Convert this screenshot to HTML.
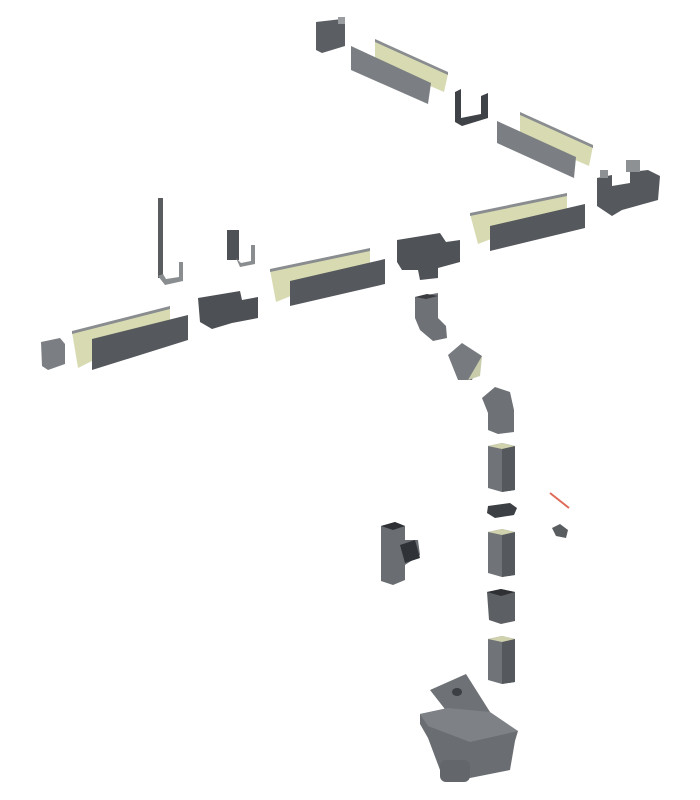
<!DOCTYPE html>
<html><head><style>html,body{margin:0;padding:0;background:#fff}svg{display:block}</style></head>
<body>
<svg width="700" height="800" viewBox="0 0 700 800" xmlns="http://www.w3.org/2000/svg">
<g stroke="none">
<!-- top end cap -->
<path d="M316,22 L342,19 L345,24 L345,46 L322,53 L316,50 Z" fill="#5b5e62"/>
<path d="M338,17 L345,17 L345,24 L338,24 Z" fill="#9a9da0"/>
<!-- gutter A -->
<polygon points="375,40 448,74 444,92 375,62" fill="#d8dbb2"/>
<polygon points="351,46 431,83 428,104 351,70" fill="#7b7f83"/>
<polygon points="375,39 448,72 448,75 375,42" fill="#8a8d90"/>
<!-- U clip -->
<path d="M455,92 L461,89 L461,118 L481,114 L481,96 L488,93 L488,118 L462,126 L455,122 Z" fill="#3f4246"/>
<!-- gutter B -->
<polygon points="520,113 593,146 589,166 520,136" fill="#d8dbb2"/>
<polygon points="497,121 576,157 574,178 497,143" fill="#7b7f83"/>
<polygon points="520,112 593,145 593,148 520,115" fill="#8a8d90"/>
<!-- corner piece -->
<path d="M597,178 L612,175 L612,186 L630,183 L630,172 L648,170 L660,176 L658,200 L622,210 L612,216 L597,206 Z" fill="#55585c"/>
<rect x="626" y="160" width="14" height="12" fill="#8e9194"/>
<rect x="600" y="170" width="8" height="8" fill="#8e9194"/>
<!-- gutter C -->
<polygon points="470,214 567,194 567,210 478,244" fill="#d8dbb2"/>
<polygon points="490,226 585,204 585,228 490,251" fill="#55585c"/>
<polygon points="470,213 567,193 567,196 470,216" fill="#8a8d90"/>
<!-- outlet piece -->
<path d="M397,240 L440,233 L446,242 L460,240 L460,262 L438,268 L438,278 L420,280 L418,270 L402,270 L397,262 Z" fill="#4f5256"/>
<!-- gutter D -->
<polygon points="270,270 370,249 370,264 276,302" fill="#d8dbb2"/>
<polygon points="290,281 385,259 385,284 290,306" fill="#55585c"/>
<polygon points="270,269 370,248 370,251 270,272" fill="#8a8d90"/>
<!-- hooks -->
<rect x="158" y="198" width="5" height="80" fill="#5a5d60"/>
<path d="M158,276 L165,285 L183,281 L183,262 L179,262 L179,277 L166,279 L163,274 Z" fill="#8a8d90"/>
<rect x="227" y="230" width="12" height="30" fill="#4e5155"/>
<path d="M236,258 L240,267 L255,264 L255,245 L251,245 L251,261 L241,263 Z" fill="#8a8d90"/>
<!-- connector -->
<path d="M198,298 L240,291 L242,300 L258,297 L258,318 L232,323 L212,329 L200,322 Z" fill="#4d5054"/>
<!-- gutter E -->
<polygon points="72,332 170,307 170,322 78,368" fill="#d8dbb2"/>
<polygon points="92,339 188,315 188,340 92,370" fill="#55585c"/>
<polygon points="72,331 170,306 170,309 72,334" fill="#8a8d90"/>
<!-- left end cap -->
<path d="M41,342 L60,338 L65,344 L65,364 L48,370 L42,366 Z" fill="#7b7f83"/>
<!-- elbow top -->
<path d="M415,297 L438,293 L438,318 L446,326 L447,338 L433,341 L420,330 L415,318 Z" fill="#6e7276"/>
<path d="M415,297 L427,294 L438,296 L426,299 Z" fill="#3a3c40"/>
<!-- offset -->
<path d="M448,355 L462,343 L482,356 L472,380 L458,380 Z" fill="#777b7f"/>
<path d="M468,380 L482,356 L480,376 Z" fill="#c9ccab"/>
<!-- elbow 2 -->
<path d="M482,398 L495,387 L510,392 L514,410 L514,432 L498,434 L488,430 L488,413 Z" fill="#6e7276"/>
<!-- pipe 1 -->
<polygon points="488,446 502,443 515,446 515,490 502,492 488,488" fill="#707478"/>
<polygon points="502,446 515,446 515,490 502,492" fill="#55585c"/>
<polygon points="488,446 502,443 515,446 502,449" fill="#cfd2ad"/>
<!-- bracket -->
<path d="M488,506 L510,503 L517,508 L514,515 L495,518 L487,513 Z" fill="#3c3f43"/>
<!-- pipe 2 -->
<polygon points="488,532 502,529 515,532 515,575 502,577 488,573" fill="#707478"/>
<polygon points="502,532 515,532 515,575 502,577" fill="#55585c"/>
<polygon points="488,532 502,529 515,532 502,535" fill="#cfd2ad"/>
<!-- socket -->
<polygon points="487,592 501,589 515,592 515,621 501,624 489,620" fill="#5c5f63"/>
<polygon points="487,592 501,589 515,592 501,596" fill="#2e3034"/>
<!-- pipe 3 -->
<polygon points="488,639 502,636 515,639 515,682 502,684 488,680" fill="#707478"/>
<polygon points="502,639 515,639 515,682 502,684" fill="#55585c"/>
<polygon points="488,639 502,636 515,639 502,642" fill="#cfd2ad"/>
<!-- T -->
<path d="M381,526 L395,522 L405,526 L405,540 L418,540 L420,555 L405,565 L405,580 L393,585 L381,581 Z" fill="#6a6e72"/>
<polygon points="381,526 395,522 405,526 393,530" fill="#2e3034"/>
<polygon points="400,545 415,540 420,558 405,563" fill="#2f3236"/>
<!-- screw + wing -->
<line x1="550" y1="493" x2="569" y2="508" stroke="#e06a5a" stroke-width="2"/>
<path d="M552,528 L560,524 L568,530 L566,538 L556,536 Z" fill="#5a5d60"/>
<!-- hopper -->
<path d="M430,690 L466,674 L490,712 L455,722 Z" fill="#6e7276"/>
<ellipse cx="457" cy="692" rx="5" ry="4" fill="#3c3f43"/>
<path d="M420,714 L448,708 L518,731 L515,741 L510,770 L470,778 L440,770 L428,738 L420,724 Z" fill="#6a6e72"/>
<path d="M420,714 L448,708 L490,712 L518,731 L470,742 L428,726 Z" fill="#7e8286"/>
<rect x="440" y="760" width="30" height="22" rx="6" fill="#63676b"/>
</g>
</svg>
</body></html>
